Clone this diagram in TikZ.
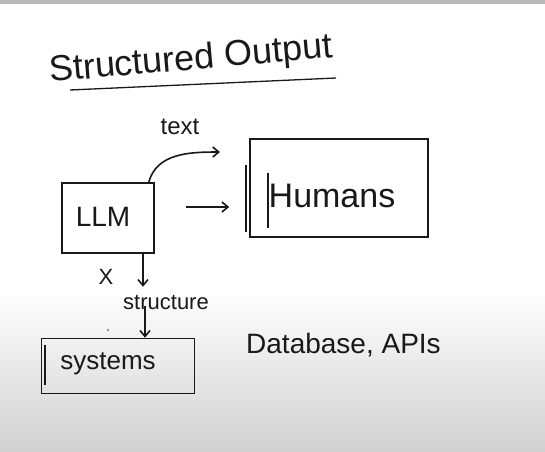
\documentclass[tikz,border=0pt]{standalone}
\usepackage{fontspec}
\setmainfont{Liberation Sans}
\usetikzlibrary{arrows.meta}
\begin{document}
\begin{tikzpicture}[x=1pt,y=-1pt,
  ink/.style={draw=black!90,line width=1.6pt},
  box/.style={ink,rectangle,inner sep=0pt},
  lbl/.style={inner sep=0pt,text=black!90},
  arr/.style={ink,-{Straight Barb[length=6pt,width=10pt]}}]
\useasboundingbox (0,0) rectangle (545,451);
\fill[white] (0,0) rectangle (545,451);
\shade[top color=white,bottom color=black!18] (0,290) rectangle (545,451);
\fill[black!28] (0,0) rectangle (545,4);
% title
\node[lbl,font=\fontsize{36}{40}\selectfont,anchor=base west,rotate=5] (title) at (50,82) {Structured Output};
\coordinate (u1) at (70,90);
\coordinate (u2) at (336,78);
\draw[ink,line width=1.3pt] (u1) -- (u2);
% LLM
\node[box,minimum width=92pt,minimum height=70pt] (llm) at (108,218) {};
\node[lbl,font=\fontsize{28}{32}\selectfont] (llmt) at (103,217) {LLM};
% Humans
\node[box,minimum width=178pt,minimum height=98pt] (hum) at (339,188) {};
\node[lbl,font=\fontsize{34}{38}\selectfont] (humt) at (332,196) {Humans};
\coordinate (h1) at (246,165); \coordinate (h2) at (246,232);
\coordinate (h3) at (268,173); \coordinate (h4) at (268,228);
\draw[ink] (h1) -- (h2);
\draw[ink] (h3) -- (h4);
% text arrow
\node[lbl,font=\fontsize{24}{28}\selectfont] (txt) at (180,127) {text};
\coordinate (tend) at (220,152);
\draw[arr] (llm.north east) ++(-6,0) to[out=75,in=180] (tend);
% straight arrow
\draw[arr,shorten <=31pt,shorten >=20pt] (llm.east |- 0,207) coordinate (e1) -- (hum.west |- e1);
% systems
\node[box,minimum width=153pt,minimum height=55pt] (sys) at (118,366) {};
\node[lbl,font=\fontsize{26}{30}\selectfont] (syst) at (108,364) {systems};
\coordinate (s1) at (45,345); \coordinate (s2) at (45,385);
\draw[ink] (s1) -- (s2);
% structure
\node[lbl,font=\fontsize{22}{26}\selectfont] (strt) at (166,302) {structure};
\node[lbl,font=\fontsize{22}{26}\selectfont] (xx) at (106,277) {X};
\coordinate (c1) at (143,0);
\coordinate (c2) at (145,0);
\draw[arr] (llm.south -| c1) -- ([yshift=-2pt]xx.south -| c1);
\draw[arr] ([yshift=3pt]strt.south -| c2) -- (sys.north -| c2);
% database
\node[lbl,font=\fontsize{28}{32}\selectfont,anchor=west] (db) at (246,345) {Database, APIs};
\fill[black!40] (108,330) circle (1.5pt);
\end{tikzpicture}
\end{document}
